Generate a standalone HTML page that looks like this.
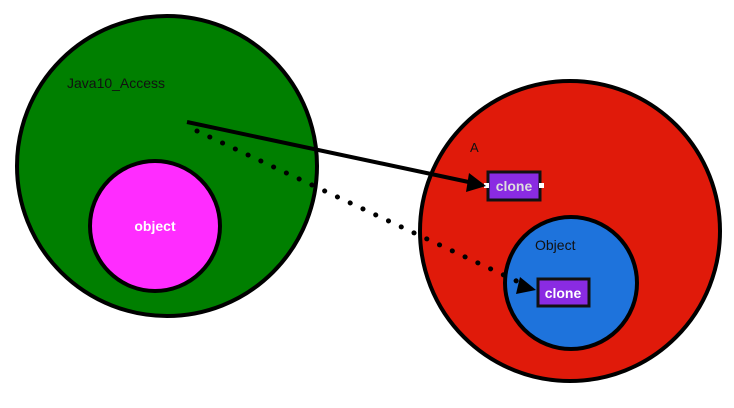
<!DOCTYPE html>
<html><head><style>body{margin:0;background:#fff}svg{display:block}text{font-family:"Liberation Sans",sans-serif}</style></head>
<body>
<svg width="734" height="408" viewBox="0 0 734 408">
<circle cx="167" cy="166" r="150" fill="#007f00" stroke="#000" stroke-width="4"/>
<circle cx="155" cy="226" r="65" fill="#ff2cff" stroke="#000" stroke-width="4"/>
<circle cx="570" cy="231" r="150" fill="#e01a0a" stroke="#000" stroke-width="4"/>
<circle cx="571" cy="283" r="66" fill="#1e73dc" stroke="#000" stroke-width="4"/>
<text x="67" y="88" font-size="14" fill="#111">Java10_Access</text>
<text x="155" y="231" font-size="14" fill="#fff" font-weight="bold" text-anchor="middle">object</text>
<text x="470" y="152" font-size="13" fill="#111">A</text>
<text x="535" y="250" font-size="14" fill="#111">Object</text>
<rect x="488" y="172" width="52" height="28" fill="#8a2be2" stroke="#111" stroke-width="3"/>
<text x="514" y="191" font-size="14" fill="#ddd" font-weight="bold" text-anchor="middle">clone</text>
<rect x="484" y="183" width="5" height="5" fill="#fff"/><rect x="539" y="183" width="5" height="5" fill="#fff"/>
<rect x="538" y="279" width="51" height="27" fill="#8a2be2" stroke="#111" stroke-width="3"/>
<text x="563" y="298" font-size="14" fill="#fff" font-weight="bold" text-anchor="middle">clone</text>
<line x1="187" y1="122" x2="478" y2="184" stroke="#000" stroke-width="4"/>
<polygon points="486,186 469,173 466,192" fill="#000"/>
<line x1="197" y1="131" x2="525" y2="285" stroke="#000" stroke-width="5" stroke-dasharray="0.1 14" stroke-linecap="round"/>
<polygon points="536,290 520,277 516,294" fill="#000"/>
</svg>
</body></html>
